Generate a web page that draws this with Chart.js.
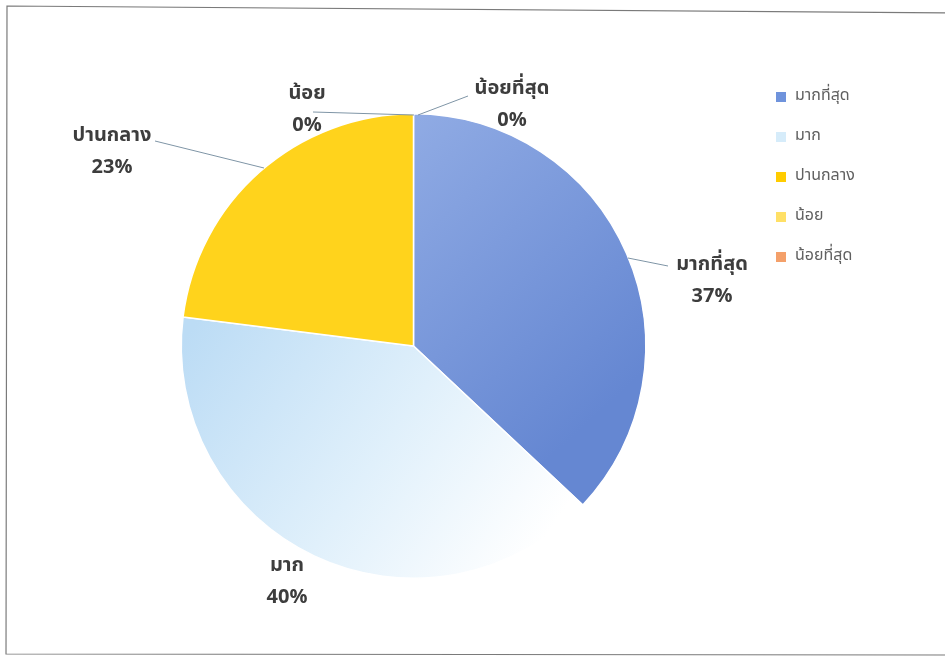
<!DOCTYPE html>
<html>
<head>
<meta charset="utf-8">
<script src="https://cdn.jsdelivr.net/npm/chart.js@4.4.0/dist/chart.umd.min.js"></script>
<style>
html,body{margin:0;padding:0;background:#fff;}
canvas{display:block;}
</style>
</head>
<body>
<canvas id="c" width="945" height="662"></canvas>
<script>
const categories = ['มากที่สุด', 'มาก', 'ปานกลาง', 'น้อย', 'น้อยที่สุด'];
const percentValues = [37, 40, 23, 0, 0];
const legendColors = ['#6f93dc', '#d6ecfa', '#ffcc00', '#ffe066', '#f4a06a'];

const FONT = '"Noto Sans Thai", "Leelawadee UI", "Noto Sans", "DejaVu Sans", sans-serif';

// label anchor (text centre) and leader line end for each slice
const labelPlaces = [
  {x: 712, y: 266, line: [[668, 266], [628, 258]]},
  {x: 287, y: 567, line: null},
  {x: 112, y: 137, line: [[155, 141], [264, 168]]},
  {x: 307, y: 95, line: [[313, 112], [414, 115]]},
  {x: 512, y: 90, line: [[468, 96], [418, 115]]}
];

function sliceFill(ctx) {
  const chart = ctx.chart;
  const a = chart.chartArea;
  if (!a) return legendColors[ctx.dataIndex];
  const c = chart.ctx;
  const i = ctx.dataIndex;
  if (i === 0) {
    const g = c.createLinearGradient(a.left + a.width * 0.5, a.top, a.right, a.top + a.height * 0.55);
    g.addColorStop(0, '#90abe4');
    g.addColorStop(1, '#6587d2');
    return g;
  }
  if (i === 1) {
    const g = c.createLinearGradient(a.left, a.top + a.height * 0.5, a.left + a.width * 0.72, a.bottom);
    g.addColorStop(0, '#bcdcf5');
    g.addColorStop(0.55, '#e0f0fb');
    g.addColorStop(1, '#ffffff');
    return g;
  }
  if (i === 2) return '#ffd31c';
  return legendColors[i];
}

const framePlugin = {
  id: 'frame',
  beforeDraw(chart) {
    const c = chart.ctx;
    c.save();
    c.strokeStyle = '#7a7a7a';
    c.lineWidth = 1.2;
    c.beginPath();
    c.moveTo(950, 13);
    c.lineTo(7, 6);
    c.lineTo(6, 654);
    c.lineTo(950, 655);
    c.stroke();
    c.restore();
  }
};

const labelPlugin = {
  id: 'outLabels',
  afterDraw(chart) {
    const c = chart.ctx;
    c.save();
    // leader lines
    c.strokeStyle = '#7f95a6';
    c.lineWidth = 1;
    labelPlaces.forEach(p => {
      if (!p.line) return;
      c.beginPath();
      c.moveTo(p.line[0][0], p.line[0][1]);
      c.lineTo(p.line[1][0], p.line[1][1]);
      c.stroke();
    });
    c.fillStyle = '#3d3d3d';
    c.textAlign = 'center';
    c.textBaseline = 'middle';
    c.font = 'bold 20px ' + FONT;
    chart.data.labels.forEach((lab, i) => {
      const p = labelPlaces[i];
      c.fillText(lab, p.x, p.y);
      c.fillText(chart.data.datasets[0].data[i] + '%', p.x, p.y + 32);
    });
    // legend
    c.textAlign = 'left';
    c.font = '16px ' + FONT;
    chart.data.labels.forEach((lab, i) => {
      const y = 97 + i * 40;
      c.fillStyle = legendColors[i];
      c.fillRect(776, y - 5, 10, 10);
      c.fillStyle = '#606060';
      c.fillText(lab, 795, y);
    });
    c.restore();
  }
};

new Chart(document.getElementById('c'), {
  type: 'pie',
  data: {
    labels: categories,
    datasets: [{
      data: percentValues,
      backgroundColor: sliceFill,
      borderColor: '#ffffff',
      borderWidth: 1.5
    }]
  },
  options: {
    responsive: false,
    animation: false,
    layout: {padding: {left: 180, right: 298, top: 113, bottom: 83}},
    plugins: {legend: {display: false}, tooltip: {enabled: false}}
  },
  plugins: [framePlugin, labelPlugin]
});
</script>
</body>
</html>
